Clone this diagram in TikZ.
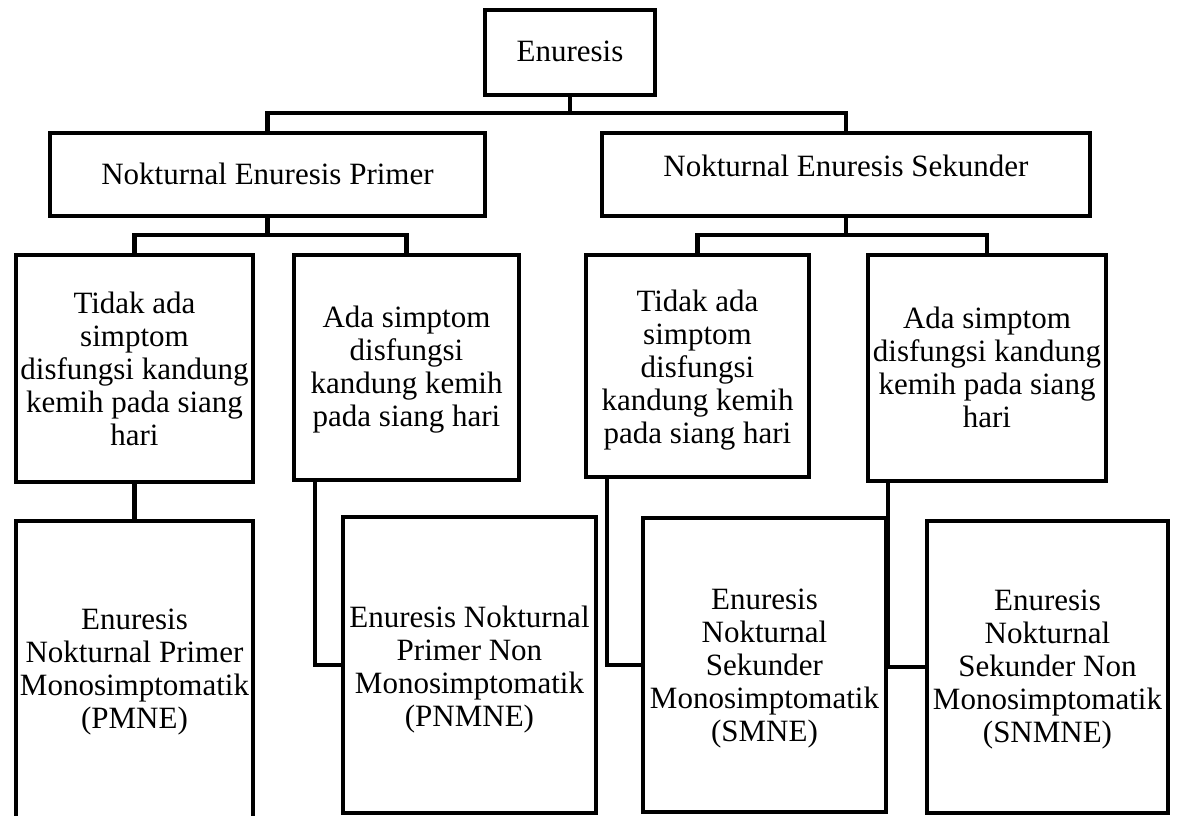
\documentclass[tikz,border=0pt]{standalone}
\usepackage{fontspec}
\setmainfont{Liberation Serif}
\usetikzlibrary{fit}
\newcommand{\ml}[1]{\begin{tabular}[t]{@{}c@{}}#1\end{tabular}}
\begin{document}
\begin{tikzpicture}[x=1pt,y=-1pt,
  box/.style={draw, line width=4.5pt, inner sep=0pt, outer sep=0pt},
  txt/.style={anchor=base, inner sep=0pt, font=\fontsize{31}{33}\selectfont},
  conn/.style={line width=4.5pt}]
\useasboundingbox (0,0) rectangle (1179,816);
% boxes
\node[box, fit={(485,10) (655,95)}] (enu) {};
\node[box, fit={(50,133) (485,216)}] (nep) {};
\node[box, fit={(602,133) (1090,216)}] (nes) {};
\node[box, fit={(16,255) (253,482)}] (t1) {};
\node[box, fit={(294,255) (519,480)}] (a1) {};
\node[box, fit={(586,255) (809,477)}] (t2) {};
\node[box, fit={(868,255) (1106,481)}] (a2) {};
\node[box, fit={(16,521) (253,840)}] (pmne) {};
\node[box, fit={(343,517) (596,813)}] (pnmne) {};
\node[box, fit={(643,518) (886,812)}] (smne) {};
\node[box, fit={(927,521) (1168,813)}] (snmne) {};
% texts
\node[txt] (enut) at (570,62) {Enuresis};
\node[txt] (nept) at (267.5,184) {Nokturnal Enuresis Primer};
\node[txt] (nest) at (846,176) {Nokturnal Enuresis Sekunder};
\node[txt] (t1t) at (134.5,313) {\ml{Tidak ada\\simptom\\disfungsi kandung\\kemih pada siang\\hari}};
\node[txt] (a1t) at (406.5,327) {\ml{Ada simptom\\disfungsi\\kandung kemih\\pada siang hari}};
\node[txt] (t2t) at (697.5,311) {\ml{Tidak ada\\simptom\\disfungsi\\kandung kemih\\pada siang hari}};
\node[txt] (a2t) at (987,328) {\ml{Ada simptom\\disfungsi kandung\\kemih pada siang\\hari}};
\node[txt] (pmnet) at (134.5,629) {\ml{Enuresis\\Nokturnal Primer\\Monosimptomatik\\(PMNE)}};
\node[txt] (pnmnet) at (469.5,627) {\ml{Enuresis Nokturnal\\Primer Non\\Monosimptomatik\\(PNMNE)}};
\node[txt] (smnet) at (764.5,609) {\ml{Enuresis\\Nokturnal\\Sekunder\\Monosimptomatik\\(SMNE)}};
\node[txt] (snmnet) at (1047.5,610) {\ml{Enuresis\\Nokturnal\\Sekunder Non\\Monosimptomatik\\(SNMNE)}};
% connectors
\draw[conn] (enu.south) -- ++(0,18) -| (nep.north);
\draw[conn] (enu.south) -- ++(0,18) -| (nes.north);
\draw[conn] (nep.south) -- ++(0,19) -| (t1.north);
\draw[conn] (nep.south) -- ++(0,19) -| (a1.north);
\draw[conn] (nes.south) -- ++(0,19) -| (t2.north);
\draw[conn] (nes.south) -- ++(0,19) -| (a2.north);
\draw[conn] (t1.south) -- (pmne.north);
\draw[conn] (a1.south west) ++(21,0) |- (pnmne.west);
\draw[conn] (t2.south west) ++(21,0) |- (smne.west);
\draw[conn] (a2.south west) ++(20,0) |- (snmne.west);
\end{tikzpicture}
\end{document}
